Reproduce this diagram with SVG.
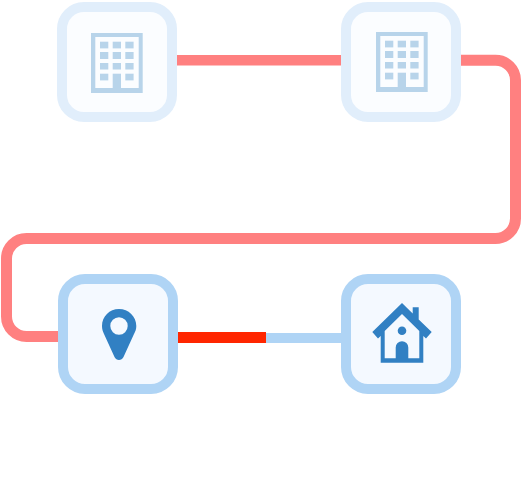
<svg xmlns="http://www.w3.org/2000/svg" width="521" height="478" viewBox="0 0 521 478">
<style>
.box{stroke-width:10}
.on{fill:#f4f9ff;stroke:#afd4f5}
.off{fill:#fbfdff;stroke:#e1eefb}
.wire{fill:none;stroke-width:10}
.pink{stroke:#ff8080}
.bld{fill:#b8d4ea}
.ico{fill:#3180c3}
</style>
<defs>
<g id="building">
<path class="bld" fill-rule="evenodd" d="M91 33H142.700V93H91ZM95.300 37V88H138.700V37Z"/>
<g class="bld">
<rect x="100" y="41.700" width="8.300" height="6.700"/><rect x="112.700" y="41.700" width="8.300" height="6.700"/><rect x="125.300" y="41.700" width="8.300" height="6.700"/>
<rect x="100" y="52" width="8.300" height="7"/><rect x="112.700" y="52" width="8.300" height="7"/><rect x="125.300" y="52" width="8.300" height="7"/>
<rect x="100" y="63" width="8.300" height="6.500"/><rect x="112.700" y="63" width="8.300" height="6.500"/><rect x="125.300" y="63" width="8.300" height="6.500"/>
<rect x="100" y="73.700" width="8.300" height="6.700"/><rect x="125.300" y="73.700" width="8.300" height="6.700"/>
<rect x="112.700" y="73.700" width="8.300" height="19.300"/>
</g>
</g>
</defs>
<g id="connectors">
<path class="wire pink" style="stroke-width:10.500" d="M177 60.300H342"/>
<path class="wire pink" style="stroke-width:11" d="M460 60.300H495.500A20 20 0 0 1 515.500 80.300V218.500A20 20 0 0 1 495.500 238.500H26.500A20 20 0 0 0 6.500 258.500V316.500A20 20 0 0 0 26.500 336.500H60"/>
<path class="wire" stroke="#afd4f5" d="M260 338H342"/>
<path class="wire" style="stroke-width:11" stroke="#ff2600" d="M177 337.500H266"/>
</g>
<g id="node-building-1">
<rect class="box off" x="62" y="7" width="110" height="110" rx="22"/>
<use href="#building"/>
</g>
<g id="node-building-2">
<rect class="box off" x="346" y="7" width="110" height="110" rx="22"/>
<use href="#building" x="285" y="-1"/>
</g>
<g id="node-pin">
<rect class="box on" x="63" y="279" width="110" height="110" rx="22"/>
<path class="ico" fill-rule="evenodd" d="M119 309C109.500 309 102 316.500 102 326C102 329 102.800 331.500 104 334L114.500 357C116.300 361 121.700 361 123.500 357L134 334C135.500 331.500 136.300 329 136.300 326C136.300 316.500 128.500 309 119 309ZM119 317.300A8.700 8.700 0 1 1 119 334.700A8.700 8.700 0 1 1 119 317.300Z"/>
</g>
<g id="node-home">
<rect class="box on" x="346" y="279" width="110" height="110" rx="22"/>
<path class="ico" fill-rule="evenodd" d="M402 303L412.700 313.500V307.300H418.700V319.500L431.700 332L426 338.500L423.300 336V362.700H380.700V336L378 338.500L372.300 332ZM402 314L384.700 331V358.300H395.700V347.500A6.300 6.300 0 0 1 408.300 347.500V358.300H419.300V331Z"/>
<circle class="ico" cx="402" cy="330.700" r="4.300"/>
</g>
</svg>
